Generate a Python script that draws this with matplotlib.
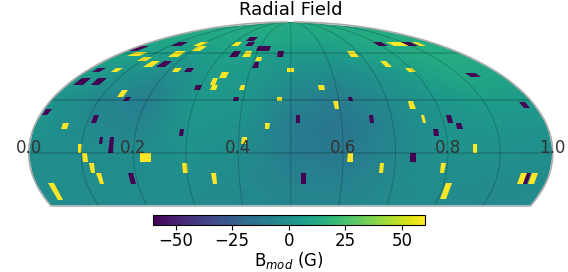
import numpy as np
import matplotlib
matplotlib.use('Agg')
import matplotlib.pyplot as plt
from matplotlib.colors import Normalize
from matplotlib.cm import ScalarMappable

title = 'Radial Field'
cbar_label = 'B$_{mod}$ (G)'
cbar_ticks = [-50, -25, 0, 25, 50]
vmin, vmax = -60, 60
edge_labels = ['0.0', '0.2', '0.4', '0.6', '0.8', '1.0']
edge_label_lon = [-180, -108, -36, 36, 108, 180]
meridians = [-144, -108, -72, -36, 0, 36, 72, 108, 144]
parallels = [0, 30, 60]
lat_min = -30

# smooth background field (G)
bg_lon = [-180, -144, -108, -72, -36, 0, 36, 72, 108, 144, 180]
bg_lat = [-30, -15, 0, 15, 30, 45, 60, 70, 80, 90]
bg_val = [
    [-2, -3, -3, -3, -4, -5, -5, -3, -3, -4, -3],
    [-1, -2, -2, -1, -3, -7, -8, -3, -1, -3, -2],
    [-1, -2, -2, 1, -1, -10, -12, -4, 0, 0, -1],
    [2, -3, -6, 3, 1, -10, -13, -5, 2, 3, 2],
    [2, -5, -9, 4, 3, -6, -10, -3, 3, 6, 5],
    [7, 1, -3, 5, 5, 0, -3, 1, 7, 12, 10],
    [8, 7, 6, 8, 7, 6, 5, 8, 12, 14, 14],
    [11, 11, 11, 11, 11, 11, 10, 11, 13, 14, 14],
    [13, 13, 13, 13, 13, 12, 12, 13, 13, 13, 13],
    [14, 14, 14, 14, 14, 14, 14, 14, 14, 14, 14],
]

# localized patches: centre lon, centre lat, lon extent, lat extent (deg), field (G)
D, Y = -60, 60
spot_lon = [-175.6, -137.5, -112.2, -104.5, -66.9, -53.4, -50.0, -31.1, -58.4, -45.5, -10.8, -160.9, -119.6, -143.5, -129.7, -118.2, -31.4, -32.3, -170.5, -154.5,
            -101.2, -90.6, -57.0, -171.3, -157.6, -63.2, -60.9, -73.8, -38.4, -129.5, -123.7, -41.5, -8.3, -176.7, -139.4, -158.7, -16.6, -75.8, -0.3, 111.1,
            132.9, 147.4, 159.0, 65.0, 89.0, 106.6, 155.9, 24.3, 45.0, 33.7, 89.3, 172.5, 5.2, 57.6, 94.4, 113.1, 118.2, 101.1, -145.1, -130.9,
            -123.7, -32.2, -99.9, -141.6, -137.4, -73.3, -133.5, -111.3, -53.5, -169.3, 41.0, 62.7, 84.1, 105.1, 126.7, 8.9, 111.8, 162.2, 165.7, 169.7]
spot_lat = [63.5, 66.9, 67.1, 63.3, 66.9, 70.6, 66.9, 63.3, 59.4, 59.4, 59.4, 59.4, 59.4, 55.6, 52.2, 52.2, 55.6, 52.0, 48.5, 48.5,
            48.5, 48.5, 45.3, 41.3, 41.3, 41.3, 37.6, 37.6, 37.6, 33.8, 30.6, 30.6, 30.6, 23.1, 19.1, 15.1, 15.1, 11.4, 48.7, 66.9,
            66.9, 66.9, 66.9, 59.4, 52.2, 48.7, 45.3, 37.6, 30.6, 27.1, 27.1, 27.1, 19.1, 19.1, 19.1, 19.1, 15.1, 11.4, 2.6, 6.9,
            4.5, 6.9, -2.6, -2.6, -8.2, -8.2, -14.2, -14.2, -14.2, -21.5, -2.6, -8.2, -2.6, -8.2, 2.6, -14.2, -21.5, -14.2, -14.2, -14.2]
spot_dlon = [13.8, 12.0, 10.6, 9.7, 8.9, 11.0, 8.3, 14.7, 7.7, 7.5, 6.6, 12.7, 10.2, 8.4, 7.9, 8.1, 5.9, 4.7, 6.5, 6.0,
             6.0, 6.2, 5.8, 7.6, 7.1, 4.2, 4.6, 5.0, 3.8, 4.8, 3.9, 3.6, 4.0, 4.2, 3.6, 4.2, 3.2, 2.9, 6.5, 10.7,
             19.4, 10.5, 7.4, 7.5, 5.8, 6.5, 8.2, 5.0, 3.6, 3.5, 3.9, 4.6, 3.2, 2.8, 2.6, 3.4, 3.6, 3.8, 2.6, 2.4,
             3.2, 3.6, 7.2, 3.6, 3.1, 3.4, 3.1, 3.3, 3.2, 3.8, 4.0, 2.6, 4.0, 3.2, 2.6, 3.6, 3.8, 4.2, 3.0, 4.2]
spot_dlat = [3.5, 2.6, 3.2, 3.5, 3.1, 3.3, 3.1, 3.5, 3.8, 3.8, 3.8, 3.3, 3.8, 2.8, 4.0, 4.0, 2.8, 4.0, 2.6, 2.6,
             2.6, 2.6, 3.4, 4.1, 4.1, 4.1, 2.8, 2.8, 2.8, 4.0, 2.8, 2.8, 2.8, 3.8, 4.2, 3.8, 3.8, 3.7, 2.6, 2.6,
             3.1, 2.6, 2.6, 3.8, 4.0, 2.6, 3.0, 2.8, 2.8, 4.3, 4.3, 3.9, 4.2, 4.2, 4.2, 4.2, 3.8, 3.7, 4.8, 4.1,
             8.6, 4.1, 5.2, 4.8, 5.6, 5.6, 6.0, 6.0, 6.0, 9.5, 5.2, 5.6, 5.2, 5.6, 4.8, 6.0, 9.2, 6.0, 6.0, 6.0]
spot_val = [D, D, Y, Y, Y, D, D, D, D, Y, D, Y, Y, Y, Y, D, Y, D, D, Y,
            Y, D, Y, D, D, Y, Y, D, Y, Y, D, D, Y, D, D, Y, Y, D, Y, D,
            Y, D, Y, Y, Y, Y, D, Y, D, Y, Y, D, D, D, Y, D, D, D, Y, D,
            D, Y, Y, Y, Y, Y, Y, D, Y, Y, Y, Y, D, Y, Y, D, Y, Y, D, Y]

W, H = 568, 272
fig = plt.figure(figsize=(W / 100, H / 100), dpi=100)
ax = fig.add_axes([28.5 / W, -12 / H, 524.5 / W, 262 / H], projection='mollweide')
ax.spines['geo'].set_visible(False)
ax.set_xticklabels([])
ax.set_yticklabels([])
ax.grid(False)
norm = Normalize(vmin, vmax)
cmap = 'viridis'

lon_g, lat_g = np.meshgrid(np.radians(bg_lon), np.radians(bg_lat))
ax.pcolormesh(lon_g, lat_g, np.array(bg_val, float), cmap=cmap, norm=norm, shading='gouraud', zorder=1)

for lo, la, dw, dh, v in zip(spot_lon, spot_lat, spot_dlon, spot_dlat, spot_val):
    xe = np.radians([lo - dw / 2, lo + dw / 2])
    ye = np.radians([la - dh / 2, la + dh / 2])
    ax.pcolormesh(xe, ye, np.array([[v]], float), cmap=cmap, norm=norm, shading='flat', zorder=2, antialiased=True, linewidth=0)

lat_line = np.radians(np.linspace(lat_min, 89.9, 200))
for m in meridians:
    ax.plot(np.full_like(lat_line, np.radians(m)), lat_line, color='k', alpha=0.2, lw=0.7, zorder=3)
lon_line = np.radians(np.linspace(-180, 180, 100))
for p in parallels:
    ax.plot(lon_line, np.full_like(lon_line, np.radians(p)), color='k', alpha=0.2, lw=1.0, zorder=3)

for s in (-180, 180):
    ax.plot(np.full_like(lat_line, np.radians(s)), lat_line, color='#aaaaaa', lw=1.2, zorder=4, clip_on=False)
ax.plot(lon_line, np.full_like(lon_line, np.radians(lat_min)), color='#bbbbbb', lw=1.2, zorder=4, clip_on=False)

for lab, lo in zip(edge_labels, edge_label_lon):
    ax.text(np.radians(lo), 0, lab, ha='center', va='baseline', fontsize=12, color='#333333', zorder=5, clip_on=False)

fig.text(291 / W, 1 - 15 / H, title, ha='center', va='baseline', fontsize=13)

cax = fig.add_axes([153 / W, 1 - 224.5 / H, 271.6 / W, 9.8 / H])
cb = fig.colorbar(ScalarMappable(norm=norm, cmap=cmap), cax=cax, orientation='horizontal', ticks=cbar_ticks)
cb.ax.tick_params(labelsize=12, pad=2)
cb.set_label(cbar_label, fontsize=12, labelpad=0)

fig.savefig('out.png', dpi=100)
